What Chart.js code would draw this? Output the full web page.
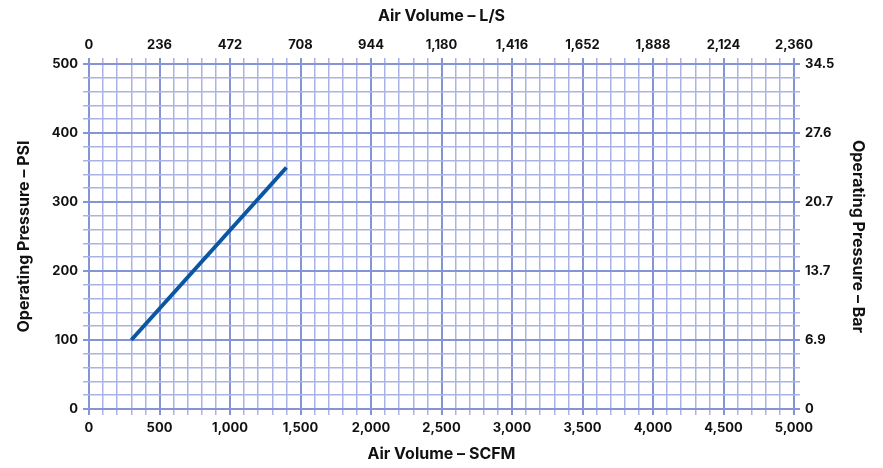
<!DOCTYPE html>
<html>
<head>
<meta charset="utf-8">
<script src="https://cdn.jsdelivr.net/npm/chart.js@4.4.1/dist/chart.umd.min.js"></script>
<style>
 html,body{margin:0;padding:0;background:#fff;}
 #wrap{width:883px;height:468px;position:relative;}
</style>
</head>
<body>
<div id="wrap"><canvas id="chart"></canvas></div>
<script>
// line data
const scfm = [300, 1400];
const psi = [100, 350];

// secondary axis labels (at every 500 SCFM / every 100 PSI)
const lpsLabels = ['0','236','472','708','944','1,180','1,416','1,652','1,888','2,124','2,360'];
const barLabels = ['0','6.9','13.7','20.7','27.6','34.5'];

const majorColor = '#8594d4';
const minorColor = '#a9b4e4';
const font = {family:'Inter', size:13, weight:'bold'};
const titleFont = {family:'Inter', size:16, weight:'bold'};

function gridFor(major, onArea){
  return {
    drawOnChartArea: onArea,
    drawTicks: true,
    tickLength: 6,
    color: ctx => (ctx.tick && ctx.tick.value % major === 0) ? majorColor : minorColor,
    lineWidth: ctx => (ctx.tick && ctx.tick.value % major === 0) ? 2 : 1.5
  };
}

function fixSize(prop, v){
  return s => { s[prop] = v; };
}

new Chart(document.getElementById('chart'), {
  type: 'scatter',
  data: {
    datasets: [{
      data: scfm.map((x,i)=>({x:x, y:psi[i]})),
      showLine: true,
      borderColor: '#0b56a3',
      borderWidth: 4,
      pointRadius: 0,
      xAxisID: 'x',
      yAxisID: 'y'
    }]
  },
  options: {
    responsive: true,
    maintainAspectRatio: false,
    animation: false,
    layout: {padding: {left:11, right:12, top:3, bottom:0}},
    plugins: {legend:{display:false}, tooltip:{enabled:false}},
    scales: {
      x: {
        type:'linear', position:'bottom', min:0, max:5000,
        border:{display:false},
        grid: gridFor(500, true),
        ticks:{stepSize:100, autoSkip:false, maxRotation:0, padding:5, color:'#111', font:font,
          callback: v => v % 500 === 0 ? v.toLocaleString('en-US') : ''},
        title:{display:true, text:'Air Volume – SCFM', color:'#111', font:titleFont, padding:{top:4,bottom:4}},
        afterFit: fixSize('height', 59)
      },
      x2: {
        type:'linear', position:'top', min:0, max:5000,
        border:{display:false},
        grid: gridFor(500, false),
        ticks:{stepSize:100, autoSkip:false, maxRotation:0, padding:5, color:'#111', font:font,
          callback: v => v % 500 === 0 ? lpsLabels[v/500] : ''},
        title:{display:true, text:'Air Volume – L/S', color:'#111', font:titleFont, padding:{top:4,bottom:4}},
        afterFit: fixSize('height', 61)
      },
      y: {
        type:'linear', position:'left', min:0, max:500,
        border:{display:false},
        grid: gridFor(100, true),
        ticks:{stepSize:20, autoSkip:false, padding:5, color:'#111', font:font,
          callback: v => v % 100 === 0 ? String(v) : ''},
        title:{display:true, text:'Operating Pressure – PSI', color:'#111', font:titleFont, padding:{top:4,bottom:4}},
        afterFit: fixSize('width', 78)
      },
      y2: {
        type:'linear', position:'right', min:0, max:500,
        border:{display:false},
        grid: gridFor(100, false),
        ticks:{stepSize:20, autoSkip:false, padding:5, color:'#111', font:font,
          callback: v => v % 100 === 0 ? barLabels[v/100] : ''},
        title:{display:true, text:'Operating Pressure – Bar', color:'#111', font:titleFont, padding:{top:4,bottom:4}},
        afterFit: fixSize('width', 77)
      }
    }
  }
});
</script>
</body>
</html>
